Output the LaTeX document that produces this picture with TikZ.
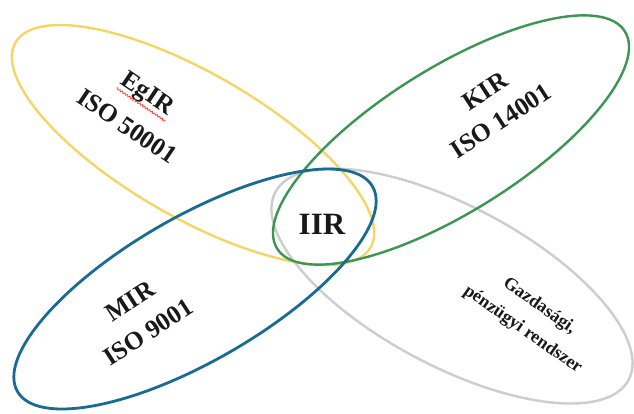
\documentclass[tikz,border=0pt]{standalone}
\usepackage{fontspec}
\setmainfont{Liberation Serif}
\usetikzlibrary{decorations.pathmorphing}
\definecolor{cyellow}{RGB}{244,214,100}
\definecolor{cgreen}{RGB}{58,150,82}
\definecolor{cblue}{RGB}{24,108,148}
\definecolor{cgray}{RGB}{205,205,205}
\definecolor{ctext}{RGB}{25,25,25}
\tikzset{
  ring/.style={line width=2.4pt},
  lbl/.style={font=\bfseries\fontsize{25.5}{25.5}\selectfont, text=ctext, inner sep=0pt},
  small/.style={font=\bfseries\fontsize{18}{29}\selectfont, text=ctext, inner sep=0pt, align=center},
}
\begin{document}
\begin{tikzpicture}[x=1pt,y=-1pt]
\fill[white] (0,0) rectangle (634,413);
\useasboundingbox (0,0) rectangle (634,413);
% ellipses
\draw[ring, cgray] [rotate around={-28:(452,286)}] (452,286) ellipse [x radius=200, y radius=80];
\draw[ring, cyellow] [rotate around={-30:(193,145)}] (193,145) ellipse [x radius=205, y radius=72];
\draw[ring, cgreen] [rotate around={32:(451,140)}] (451,140) ellipse [x radius=205, y radius=72];
\draw[ring, cblue, line width=2.8pt] [rotate around={30:(195,289)}] (195,289) ellipse [x radius=205, y radius=72];
% labels
\node[lbl, rotate=-34] (egir) at (147,95) {EgIR};
\node[lbl, rotate=-34] (iso50) at (127,126) {ISO 50001};
\draw[red!75, line width=0.8pt, decorate, decoration={snake, amplitude=0.9pt, segment length=3pt}]
  (egir.south west) -- (egir.south east);
\node[lbl, rotate=33] (kir) at (485,91) {KIR};
\node[lbl, rotate=33] (iso14) at (501,121) {ISO 14001};
\node[lbl, rotate=33] (mir) at (130,301) {MIR};
\node[lbl, rotate=33] (iso9) at (148,332) {ISO 9001};
\node[font=\bfseries\fontsize{31}{31}\selectfont, text=ctext, inner sep=0pt] (iir) at (322,224) {IIR};
\node[small, rotate=-35] (gazd) at (531,318) {Gazdasági,\\pénzügyi rendszer};
\end{tikzpicture}
\end{document}
